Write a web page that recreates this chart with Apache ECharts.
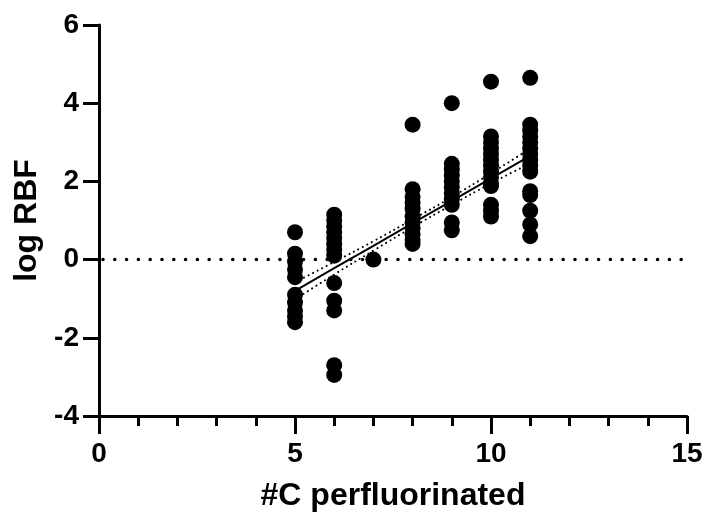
<!DOCTYPE html>
<html>
<head>
<meta charset="utf-8">
<script src="https://cdn.jsdelivr.net/npm/echarts@6/dist/echarts.min.js"></script>
<style>
  html, body { margin: 0; padding: 0; background: #fff; }
  #chart { width: 704px; height: 513px; }
</style>
</head>
<body>
<div id="chart"></div>
<script>
// measured log RBF values, grouped by number of perfluorinated carbons
var cGroups = [5, 6, 7, 8, 9, 10, 11];
var rbf5 = [0.7, 0.15, -0.05, -0.25, -0.45, -0.9, -1.1, -1.3, -1.45, -1.6];
var rbf6 = [1.15, 1.0, 0.85, 0.7, 0.55, 0.4, 0.25, 0.1, -0.6, -1.05, -1.3, -2.7, -2.95];
var rbf7 = [0.0];
var rbf8 = [3.45, 1.8, 1.6, 1.45, 1.3, 1.1, 0.95, 0.8, 0.65, 0.5, 0.4];
var rbf9 = [4.0, 2.45, 2.3, 2.15, 2.0, 1.85, 1.7, 1.55, 1.4, 0.95, 0.75];
var rbf10 = [4.55, 3.15, 3.0, 2.85, 2.7, 2.55, 2.4, 2.25, 2.1, 1.95, 1.88, 1.4, 1.25, 1.1];
var rbf11 = [4.65, 3.45, 3.3, 3.15, 3.0, 2.85, 2.7, 2.55, 2.4, 2.25, 1.75, 1.65, 1.25, 0.9, 0.6];

// linear fit and 95% band
var fitX = [5, 6, 7, 8, 9, 10, 11];
var fitY = [-0.8, -0.22, 0.35, 0.93, 1.5, 2.08, 2.65];
var bandHalf = [0.22, 0.16, 0.12, 0.1, 0.1, 0.13, 0.19];

var zeroLine = [[0.1, 0], [14.9, 0]];

var groups = [rbf5, rbf6, rbf7, rbf8, rbf9, rbf10, rbf11];
var points = [];
groups.forEach(function (vals, i) {
  vals.forEach(function (v) { points.push([cGroups[i], v]); });
});

var fitLine = fitX.map(function (x, i) { return [x, fitY[i]]; });
var upper = fitX.map(function (x, i) { return [x, fitY[i] + bandHalf[i]]; });
var lower = fitX.map(function (x, i) { return [x, fitY[i] - bandHalf[i]]; });

var font = 'Liberation Sans, Arial, sans-serif';

var myChart = echarts.init(document.getElementById('chart'));
var option = {
  animation: false,
  grid: { left: 99, right: 17, top: 25, bottom: 97, outerBoundsMode: 'none' },
  xAxis: {
    type: 'value',
    min: 0, max: 15, interval: 5,
    name: '#C perfluorinated',
    nameLocation: 'middle',
    nameGap: 64,
    nameTextStyle: { fontFamily: font, fontWeight: 'bold', fontSize: 32, color: '#000' },
    axisLine: { show: true, onZero: false, lineStyle: { color: '#000', width: 3 } },
    axisTick: { show: true, length: 18, lineStyle: { color: '#000', width: 3 } },
    minorTick: { show: true, splitNumber: 5, length: 10, lineStyle: { color: '#000', width: 3 } },
    axisLabel: { margin: 24, fontFamily: font, fontWeight: 'bold', fontSize: 28, color: '#000' },
    splitLine: { show: false }
  },
  yAxis: {
    type: 'value',
    min: -4, max: 6, interval: 2,
    name: 'log RBF',
    nameLocation: 'middle',
    nameGap: 54,
    nameTextStyle: { fontFamily: font, fontWeight: 'bold', fontSize: 32, color: '#000' },
    axisLine: { show: true, onZero: false, lineStyle: { color: '#000', width: 3 } },
    axisTick: { show: true, length: 16, lineStyle: { color: '#000', width: 3 } },
    axisLabel: { margin: 20, fontFamily: font, fontWeight: 'bold', fontSize: 28, color: '#000' },
    splitLine: { show: false }
  },
  series: [
    {
      type: 'line',
      data: zeroLine,
      symbol: 'none',
      lineStyle: { color: '#000', width: 3.5, type: [0.1, 11.7], cap: 'round' },
      z: 1
    },
    {
      type: 'scatter',
      data: points,
      symbol: 'circle',
      symbolSize: 16,
      itemStyle: { color: '#000', opacity: 1 },
      z: 2
    },
    {
      type: 'line',
      data: fitLine,
      symbol: 'none',
      lineStyle: { color: '#000', width: 2 },
      z: 3
    },
    {
      type: 'line',
      data: upper,
      symbol: 'none',
      smooth: true,
      lineStyle: { color: '#000', width: 2, type: [0.1, 5], cap: 'round' },
      z: 3
    },
    {
      type: 'line',
      data: lower,
      symbol: 'none',
      smooth: true,
      lineStyle: { color: '#000', width: 2, type: [0.1, 5], cap: 'round' },
      z: 3
    }
  ]
};
option && myChart.setOption(option);
</script>
</body>
</html>
